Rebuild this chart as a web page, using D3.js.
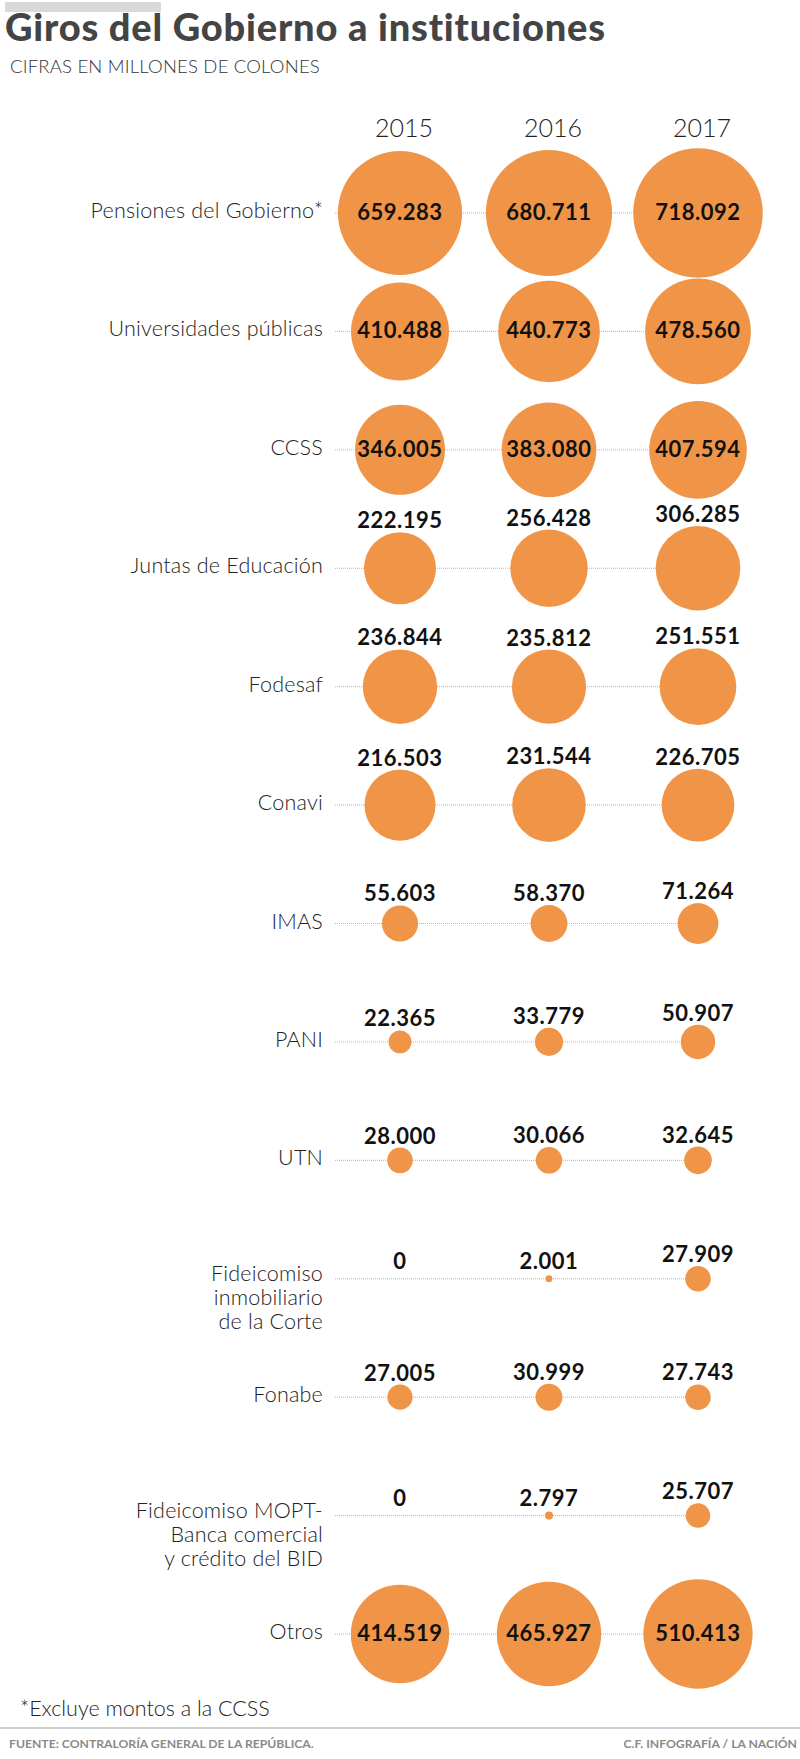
<!DOCTYPE html>
<html>
<head>
<meta charset="utf-8">
<script src="https://cdn.jsdelivr.net/npm/d3@7"></script>
<style>
  body { margin: 0; background: #fff; }
  svg { display: block; font-family: "Lato", sans-serif; }
</style>
</head>
<body>
<div id="chart"></div>
<script>
const years = ["2015", "2016", "2017"];
const categories = [
  "Pensiones del Gobierno*",
  "Universidades públicas",
  "CCSS",
  "Juntas de Educación",
  "Fodesaf",
  "Conavi",
  "IMAS",
  "PANI",
  "UTN",
  "Fideicomiso\ninmobiliario\nde la Corte",
  "Fonabe",
  "Fideicomiso MOPT-\nBanca comercial\ny crédito del BID",
  "Otros"
];
const values2015 = [659283, 410488, 346005, 222195, 236844, 216503, 55603, 22365, 28000, 0, 27005, 0, 414519];
const values2016 = [680711, 440773, 383080, 256428, 235812, 231544, 58370, 33779, 30066, 2001, 30999, 2797, 465927];
const values2017 = [718092, 478560, 407594, 306285, 251551, 226705, 71264, 50907, 32645, 27909, 27743, 25707, 510413];
const series = [values2015, values2016, values2017];

const width = 800, height = 1759;
const orange = "#f09548";
const fmt = d3.format(",d");
const label = v => fmt(v).replace(/,/g, ".");

const svg = d3.select("#chart").append("svg")
    .attr("width", width)
    .attr("height", height);

const x = d3.scalePoint().domain(years).range([400, 698]);
const y = d3.scalePoint().domain(categories).range([213, 1634]);
const r = d3.scaleSqrt().domain([0, 718092]).range([0, 64.8]);

// header
svg.append("rect").attr("x", 5).attr("y", 2).attr("width", 156).attr("height", 10).attr("fill", "#d9d9d9");
svg.append("text").attr("x", 5).attr("y", 41)
    .attr("font-size", 38).attr("font-weight", 900).attr("fill", "#444")
    .attr("letter-spacing", 0.8)
    .text("Giros del Gobierno a instituciones");
svg.append("text").attr("x", 10).attr("y", 73)
    .attr("font-size", 18.5).attr("font-weight", 300).attr("fill", "#333")
    .attr("letter-spacing", 0.2)
    .text("CIFRAS EN MILLONES DE COLONES");

// years
svg.append("g").selectAll("text")
  .data(years)
  .join("text")
    .attr("x", d => x(d) + 4)
    .attr("y", 137)
    .attr("text-anchor", "middle")
    .attr("font-size", 25).attr("font-weight", 300).attr("fill", "#222")
    .text(d => d);

const rows = svg.append("g").selectAll("g")
  .data(categories)
  .join("g")
    .attr("transform", d => `translate(0,${y(d)})`);

rows.append("line")
    .attr("x1", 335).attr("x2", x("2017"))
    .attr("stroke", "#b5b5b5").attr("stroke-width", 1)
    .attr("stroke-dasharray", "1,1");

rows.append("text")
    .attr("text-anchor", "end")
    .attr("font-size", 21.5).attr("font-weight", 300).attr("fill", "#222")
    .attr("letter-spacing", 0.2)
  .selectAll("tspan")
  .data(d => d.split("\n").map((t, i, a) => ({t, i, n: a.length})))
  .join("tspan")
    .attr("x", 323)
    .attr("y", d => d.n > 1 ? 2 + d.i * 24 : 5)
    .text(d => d.t);

rows.each(function(cat, i) {
  const g = d3.select(this);
  years.forEach((yr, j) => {
    const v = series[j][i];
    const rad = r(v);
    g.append("circle")
        .attr("cx", x(yr)).attr("cy", 0).attr("r", rad)
        .attr("fill", orange);
    const inside = v > 340000;
    g.append("text")
        .attr("x", x(yr))
        .attr("y", inside ? 7 : -Math.max(rad, 6) - 4)
        .attr("text-anchor", "middle")
        .attr("font-size", 22).attr("font-weight", 700).attr("fill", "#111")
        .attr("letter-spacing", 0.5)
        .text(label(v));
  });
});

// footer
svg.append("text").attr("x", 20).attr("y", 1716)
    .attr("font-size", 21.5).attr("font-weight", 300).attr("fill", "#222")
    .text("*Excluye montos a la CCSS");
svg.append("line").attr("x1", 0).attr("x2", width).attr("y1", 1728).attr("y2", 1728)
    .attr("stroke", "#cfcfcf").attr("stroke-width", 2);
svg.append("text").attr("x", 9).attr("y", 1748)
    .attr("font-size", 12.2).attr("font-weight", 700).attr("fill", "#8a8a8a")
    .text("FUENTE: CONTRALORÍA GENERAL DE LA REPÚBLICA.");
svg.append("text").attr("x", 797).attr("y", 1748).attr("text-anchor", "end")
    .attr("font-size", 12.2).attr("font-weight", 700).attr("fill", "#8a8a8a")
    .text("C.F. INFOGRAFÍA / LA NACIÓN");
</script>
</body>
</html>
